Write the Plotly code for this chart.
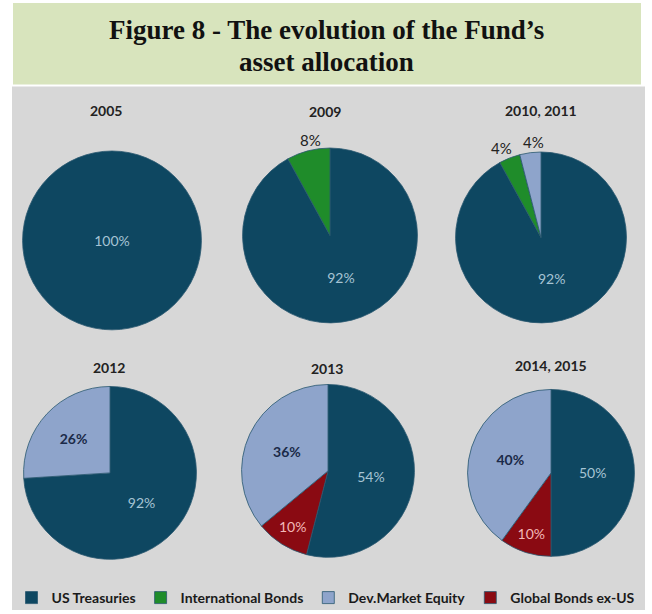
import plotly.graph_objects as go

# ---------------- data ----------------
years = ["2005", "2009", "2010, 2011", "2012", "2013", "2014, 2015"]

labels_2005 = ["US Treasuries"]
values_2005 = [100]
text_2005 = ["100%"]

labels_2009 = ["US Treasuries", "International Bonds"]
values_2009 = [92, 8]
text_2009 = ["92%", "8%"]

labels_2010 = ["US Treasuries", "International Bonds", "Dev.Market Equity"]
values_2010 = [92, 4, 4]
text_2010 = ["92%", "4%", "4%"]

labels_2012 = ["US Treasuries", "Dev.Market Equity"]
values_2012 = [74, 26]          # slice sizes as drawn
text_2012 = ["92%", "26%"]      # labels as printed in the source

labels_2013 = ["US Treasuries", "Global Bonds ex-US", "Dev.Market Equity"]
values_2013 = [54, 10, 36]
text_2013 = ["54%", "10%", "36%"]

labels_2014 = ["US Treasuries", "Global Bonds ex-US", "Dev.Market Equity"]
values_2014 = [50, 10, 40]
text_2014 = ["50%", "10%", "40%"]

# ---------------- styles ----------------
W, H = 652, 614
colors = {
    "US Treasuries": "#0e4761",
    "International Bonds": "#1f8c2a",
    "Dev.Market Equity": "#8ea4cb",
    "Global Bonds ex-US": "#8a0a12",
}
text_colors = {
    "US Treasuries": "#a6c4d4",
    "International Bonds": "#2a2a2a",
    "Dev.Market Equity": "#1b2a48",
    "Global Bonds ex-US": "#f2b8b8",
}
font_fam = "Lato, 'Open Sans', sans-serif"

# pie boxes in pixels: (left, right, top, bottom)
boxes = [
    (22, 202, 152, 332),
    (242, 418, 149, 325),
    (455, 627, 153, 325),
    (23, 197, 389, 563),
    (241, 415, 387, 561),
    (467, 635, 392, 560),
]
title_pos = [(106, 111), (325, 112), (541, 111), (109, 370), (327, 371), (551, 368)]

# small slices whose labels sit outside the pie: (pie index, slice index, pixel x, pixel y)
outside_labels = [(1, 1, 310, 141), (2, 1, 501, 149), (2, 2, 533, 143)]

pies = [
    (labels_2005, values_2005, text_2005),
    (labels_2009, values_2009, text_2009),
    (labels_2010, values_2010, text_2010),
    (labels_2012, values_2012, text_2012),
    (labels_2013, values_2013, text_2013),
    (labels_2014, values_2014, text_2014),
]
outside_set = {(p, s) for p, s, _, _ in outside_labels}

fig = go.Figure()
for i, ((labs, vals, txt), (l, r, t, b)) in enumerate(zip(pies, boxes)):
    tpos = ["none" if (i, j) in outside_set else "inside" for j in range(len(labs))]
    fig.add_trace(go.Pie(
        labels=labs, values=vals, text=txt,
        textinfo="text", textposition=tpos,
        sort=False, direction="clockwise", rotation=0,
        marker=dict(colors=[colors[x] for x in labs],
                    line=dict(color="#2a5870", width=0.8)),
        insidetextfont=dict(family=font_fam, size=14,
                            color=[text_colors[x] for x in labs],
                            weight=[700 if x == "Dev.Market Equity" else 400 for x in labs]),
        insidetextorientation="horizontal",
        hoverinfo="label+text",
        domain=dict(x=[l / W, r / W], y=[1 - b / H, 1 - t / H]),
    ))

shapes = [
    dict(type="rect", xref="paper", yref="paper", x0=13 / W, x1=641 / W,
         y0=1 - 85 / H, y1=1 - 3 / H, fillcolor="#d8e4bd", line_width=0, layer="below"),
    dict(type="rect", xref="paper", yref="paper", x0=12 / W, x1=645 / W,
         y0=0, y1=1 - 87 / H, fillcolor="#d7d7d7", line_width=0, layer="below"),
]

title_font = dict(family="'Liberation Serif', serif", size=27, color="#111111", weight=700)
annotations = [
    dict(text="Figure 8 - The evolution of the Fund’s", x=326 / W, y=1 - 30 / H,
         xref="paper", yref="paper", showarrow=False, font=title_font,
         xanchor="center", yanchor="middle"),
    dict(text="asset allocation", x=326 / W, y=1 - 62 / H,
         xref="paper", yref="paper", showarrow=False, font=title_font,
         xanchor="center", yanchor="middle"),
]
for yr, (px, py) in zip(years, title_pos):
    annotations.append(dict(text=yr, x=px / W, y=1 - py / H, xref="paper", yref="paper",
                            showarrow=False, xanchor="center", yanchor="middle",
                            font=dict(family=font_fam, size=14, color="#222222", weight=700)))
for p, s, px, py in outside_labels:
    annotations.append(dict(text=pies[p][2][s], x=px / W, y=1 - py / H, xref="paper", yref="paper",
                            showarrow=False, xanchor="center", yanchor="middle",
                            font=dict(family=font_fam, size=15, color="#222222")))

fig.update_layout(
    width=W, height=H,
    margin=dict(l=0, r=0, t=0, b=0),
    paper_bgcolor="white",
    plot_bgcolor="white",
    shapes=shapes,
    annotations=annotations,
    showlegend=True,
    legend=dict(orientation="h", x=0.5, xanchor="center", y=1 - 602 / H, yanchor="middle",
                bgcolor="rgba(0,0,0,0)", traceorder="normal",
                font=dict(family=font_fam, size=14, color="#1a1a1a", weight=700)),
)

fig.write_html("out.html", config={"displayModeBar": False},
               post_script="document.body.style.margin='0';")
